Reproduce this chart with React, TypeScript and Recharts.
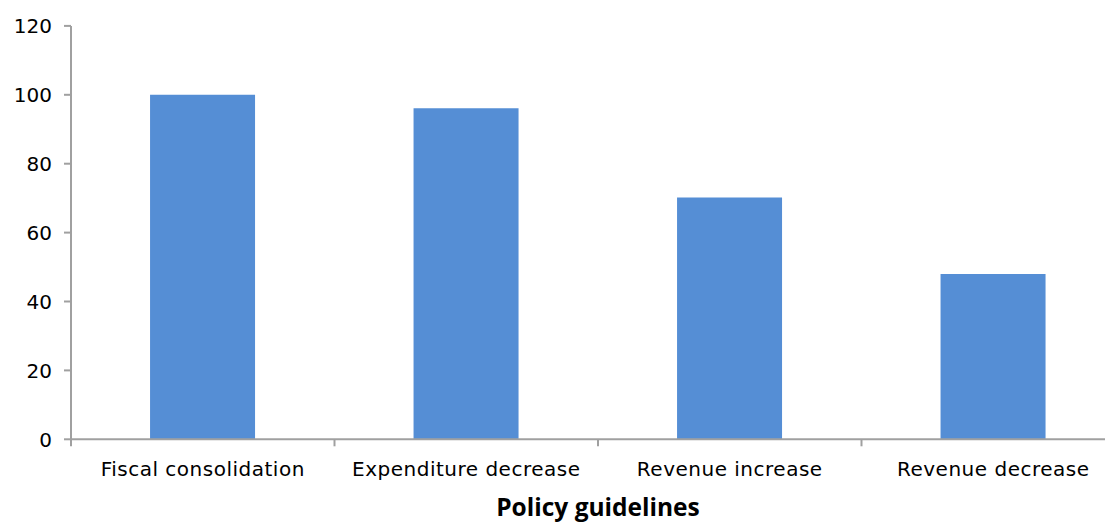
import { BarChart, Bar, XAxis, YAxis, Label } from 'recharts'

const categories = ['Fiscal consolidation', 'Expenditure decrease', 'Revenue increase', 'Revenue decrease']
const values = [100, 96.1, 70.2, 48]
const yTicks = [0, 20, 40, 60, 80, 100, 120]

const data = categories.map((name, i) => ({ name, value: values[i] }))

const AXIS = '#a0a0a0'
const BAR = '#558ed5'
const X_TICK_SIZE = 7
const X_TICK_MARGIN = 15.5

// excel puts the category tick marks between the bars, not under them
const CategoryTick = (props: any) => {
  const { x, y, payload } = props
  const axisY = y - X_TICK_SIZE - X_TICK_MARGIN
  const edge = x - (payload.offset || 0)
  return (
    <g>
      <line x1={edge} x2={edge} y1={axisY} y2={axisY + X_TICK_SIZE} stroke={AXIS} strokeWidth={2} />
      <text
        x={x}
        y={y}
        dy='0.71em'
        textAnchor='middle'
        fill='#000'
        fontSize={20}
        letterSpacing={0.5}
        fontFamily='DejaVu Sans'
      >
        {payload.value}
      </text>
    </g>
  )
}

const ValueTick = (props: any) => {
  const { x, y, payload } = props
  return (
    <text x={x} y={y} dy='0.36em' textAnchor='end' fill='#000' fontSize={20} fontFamily='DejaVu Sans'>
      {payload.value}
    </text>
  )
}

const App: React.FC = () => {
  return (
    <div style={{ width: 1105, height: 515, overflow: 'hidden' }}>
      <BarChart
        width={1117}
        height={515}
        data={data}
        margin={{ top: 17.9, right: 0, bottom: 0, left: 0 }}
        barCategoryGap='30%'
      >
        <XAxis
          dataKey='name'
          height={83.7}
          interval={0}
          axisLine={{ stroke: AXIS, strokeWidth: 2 }}
          tickLine={{ stroke: 'none' }}
          tickSize={X_TICK_SIZE}
          tickMargin={X_TICK_MARGIN}
          tick={<CategoryTick />}
        >
          <Label
            value='Policy guidelines'
            position='insideBottom'
            offset={7}
            style={{ fill: '#000', fontSize: 24.5, fontWeight: 'bold', fontFamily: 'Open Sans' }}
          />
        </XAxis>
        <YAxis
          width={63}
          domain={[0, 120]}
          ticks={yTicks}
          interval={0}
          axisLine={{ stroke: AXIS, strokeWidth: 2 }}
          tickLine={{ stroke: AXIS, strokeWidth: 2 }}
          tickSize={7}
          tickMargin={12}
          tick={<ValueTick />}
        />
        <Bar dataKey='value' fill={BAR} isAnimationActive={false} />
      </BarChart>
    </div>
  )
}

export default App
